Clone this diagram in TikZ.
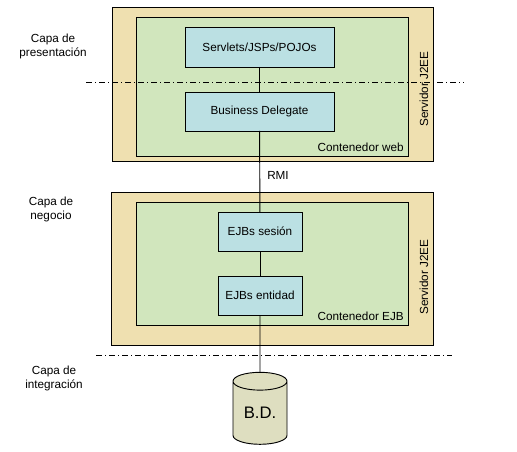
\documentclass[tikz,border=0pt]{standalone}
\usepackage{fontspec}
\setmainfont{Liberation Sans}
\usetikzlibrary{shapes.geometric}
\definecolor{mytan}{RGB}{239,224,176}
\definecolor{mygreen}{RGB}{209,230,189}
\definecolor{mycyan}{RGB}{187,224,227}
\definecolor{mydb}{RGB}{222,222,192}
\tikzset{
  server/.style={rectangle,draw=black,fill=mytan,line width=0.7pt,inner sep=0pt,outer sep=0pt},
  cont/.style={rectangle,draw=black,fill=mygreen,line width=0.7pt,inner sep=0pt,outer sep=0pt},
  comp/.style={rectangle,draw=black,fill=mycyan,line width=0.7pt,inner sep=0pt,outer sep=0pt,
    align=center,font=\fontsize{8.8}{10.5}\selectfont},
  dbase/.style={cylinder,shape border rotate=90,aspect=0.55,draw=black,fill=mydb,
    line width=0.7pt,inner sep=0pt,outer sep=0pt,font=\fontsize{12.5}{14}\selectfont},
  lab/.style={align=center,font=\fontsize{8.8}{10.5}\selectfont,inner sep=0pt},
  layerline/.style={line width=0.6pt,dash pattern=on 4.5pt off 2.25pt on 0.75pt off 2.25pt},
  link/.style={line width=0.7pt},
}
\begin{document}
\begin{tikzpicture}[x=0.75pt,y=-0.75pt]
  \useasboundingbox (0,0) rectangle (517,452);
  % capa web
  \node[server,minimum width=240.75pt,minimum height=115.5pt] (srvweb) at (272.5,84) {};
  \node[cont,minimum width=204pt,minimum height=104.25pt] (contweb) at (272,86.5) {};
  % capa EJB
  \node[server,minimum width=241.5pt,minimum height=114.75pt] (srvejb) at (272,268.5) {};
  \node[cont,minimum width=204pt,minimum height=92.25pt] (contejb) at (272,263.5) {};
  % separadores de capas
  \coordinate (sepa) at (86,82);
  \coordinate (sepb) at (464,82);
  \coordinate (sepc) at (96,355);
  \coordinate (sepd) at (452,355);
  \draw[layerline] (sepa) -- (sepb);
  \draw[layerline] (sepc) -- (sepd);
  % componentes
  \node[comp,minimum width=111.75pt,minimum height=30pt] (servlets) at (259.5,47) {Servlets/JSPs/POJOs};
  \node[comp,minimum width=111.75pt,minimum height=29.25pt] (delegate) at (259.5,111.5) {Business Delegate};
  \node[comp,minimum width=63pt,minimum height=29.25pt] (sesion) at (260,231.5) {EJBs sesión};
  \node[comp,minimum width=63pt,minimum height=29.25pt] (entidad) at (260,295.5) {EJBs entidad};
  \node[dbase,minimum width=40.5pt,minimum height=54pt] (db) at (260,413) {B.D.};
  \draw[link] (servlets) -- (delegate);
  \draw[link] (delegate) -- (sesion);
  \draw[link] (sesion) -- (entidad);
  \draw[link] (entidad) -- (db);
  % textos
  \node[lab] (rmi) at (278,175) {RMI};
  \node[lab,anchor=east] (lblweb) at (404,147) {Contenedor web};
  \node[lab,anchor=east] (lblejb) at (404,316) {Contenedor EJB};
  \node[lab,rotate=90] (j2eea) at (424,89) {Servidor J2EE};
  \node[lab,rotate=90] (j2eeb) at (424,277) {Servidor J2EE};
  \node[lab] (capapres) at (53,46) {Capa de\\presentación};
  \node[lab] (capaneg) at (51,209) {Capa de\\negocio};
  \node[lab] (capaint) at (54,378) {Capa de\\integración};
\end{tikzpicture}
\end{document}
